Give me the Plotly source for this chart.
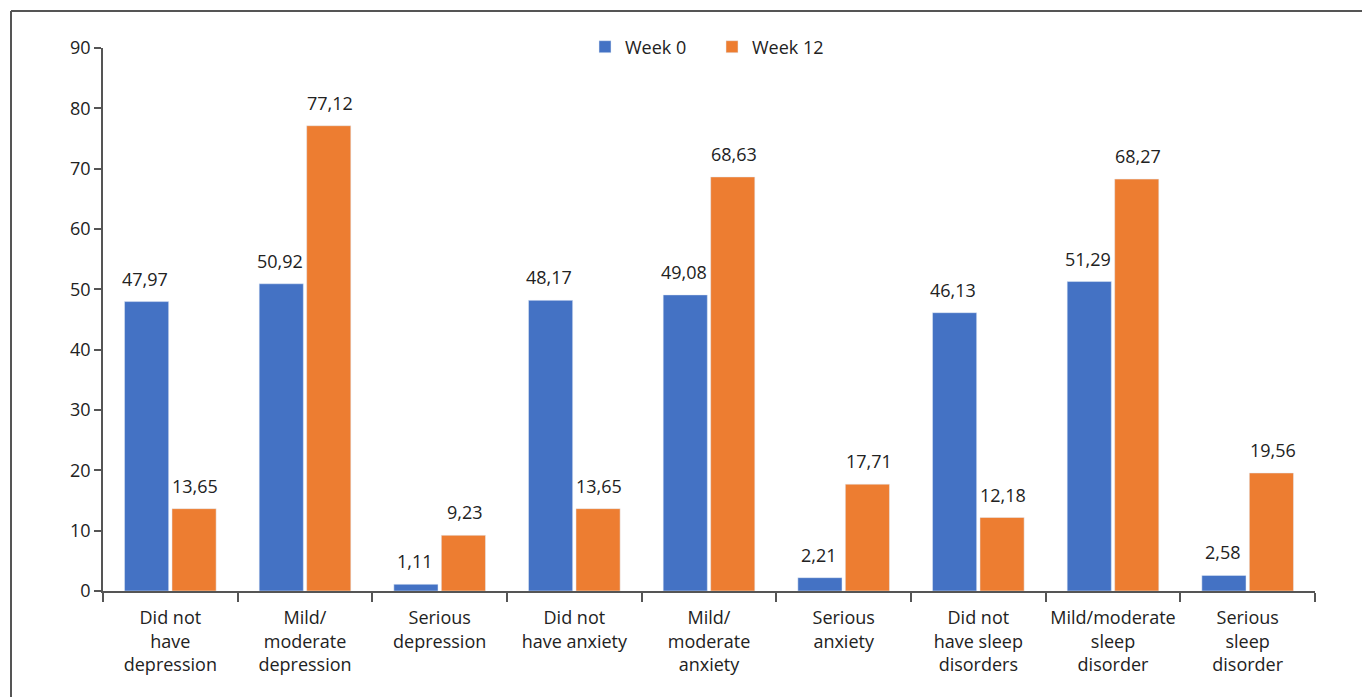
import plotly.graph_objects as go

categories = [
    "Did not<br>have<br>depression",
    "Mild/<br>moderate<br>depression",
    "Serious<br>depression",
    "Did not<br>have anxiety",
    "Mild/<br>moderate<br>anxiety",
    "Serious<br>anxiety",
    "Did not<br>have sleep<br>disorders",
    "Mild/moderate<br>sleep<br>disorder",
    "Serious<br>sleep<br>disorder",
]
week0 = [47.97, 50.92, 1.11, 48.17, 49.08, 2.21, 46.13, 51.29, 2.58]
week12 = [13.65, 77.12, 9.23, 13.65, 68.63, 17.71, 12.18, 68.27, 19.56]
y_ticks = [0, 10, 20, 30, 40, 50, 60, 70, 80, 90]


def fmt(v):
    return f"{v:.2f}".replace(".", ",")


FONT = "Open Sans, Noto Sans, sans-serif"
TXT = "#222222"
FS = 18

fig = go.Figure()
fig.add_trace(go.Bar(x=categories, y=week0, name="Week 0", marker_color="#4472C4"))
fig.add_trace(go.Bar(x=categories, y=week12, name="Week 12", marker_color="#ED7D31"))

for vals, shift in ((week0, -25), (week12, 25)):
    for c, v in zip(categories, vals):
        fig.add_annotation(x=c, y=v, xref="x", yref="y", text=fmt(v), showarrow=False,
                           xshift=shift, yshift=9, yanchor="bottom",
                           font=dict(size=FS, color=TXT, family=FONT))

L, R, T, B = 103, 1315, 48, 591
W, H = 1362, 697
pw, ph = R - L, B - T

def px_x(p):
    return (p - L) / pw

def px_y(p):
    return (B - p) / ph

fig.update_layout(
    width=W, height=H,
    margin=dict(l=L, r=W - R, t=T, b=H - B, autoexpand=False),
    paper_bgcolor="white", plot_bgcolor="white",
    font=dict(family=FONT, size=FS, color=TXT),
    barmode="group", bargap=0.295, bargroupgap=0.07,
    showlegend=True,
    legend=dict(orientation="h", x=px_x(585), xanchor="left", y=px_y(47), yanchor="middle",
                font=dict(size=FS, color=TXT), entrywidth=82, entrywidthmode="pixels",
                traceorder="normal"),
    xaxis=dict(
        showline=True, linecolor="#555555", linewidth=1.5,
        ticks="outside", ticklen=9, tickcolor="#555555", tickwidth=1.5,
        tickson="boundaries", showgrid=False, ticklabelstandoff=10,
        tickangle=0, automargin=False,
        tickfont=dict(size=FS, color=TXT, family=FONT),
    ),
    yaxis=dict(
        range=[0, 90], tickvals=y_ticks, showline=True, linecolor="#555555", linewidth=1.5,
        ticks="outside", ticklen=7, tickcolor="#555555", tickwidth=1.5,
        showgrid=False, zeroline=False, automargin=False,
        tickfont=dict(size=FS, color=TXT, family=FONT),
    ),
    shapes=[
        dict(type="line", xref="paper", yref="paper",
             x0=px_x(11), x1=px_x(1365), y0=px_y(11), y1=px_y(11),
             line=dict(color="#555555", width=2)),
        dict(type="line", xref="paper", yref="paper",
             x0=px_x(11), x1=px_x(11), y0=px_y(11), y1=px_y(700),
             line=dict(color="#555555", width=2)),
    ],
)

fig.write_html("out.html")
